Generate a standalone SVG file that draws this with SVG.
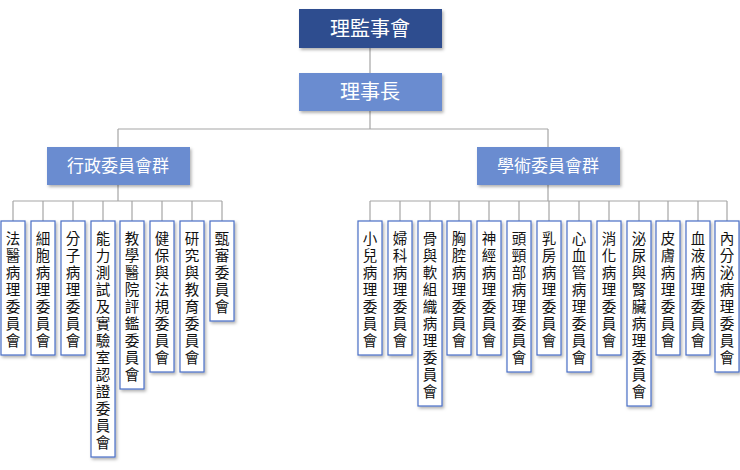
<svg xmlns="http://www.w3.org/2000/svg" width="740" height="470" viewBox="0 0 740 470">
<defs><filter id="sh" x="-20%" y="-10%" width="150%" height="130%"><feDropShadow dx="1.5" dy="2" stdDeviation="1.5" flood-color="#000" flood-opacity="0.3"/></filter></defs>
<style>
.top{fill:#2f4d8f;filter:url(#sh)}
.mid{fill:#6b8cd0;filter:url(#sh)}
.t{fill:#fff;font-family:"Noto Sans CJK TC","Noto Sans CJK SC",sans-serif;text-anchor:middle}
.leaf{fill:#fff;stroke:#4a6fc6;stroke-width:1.2;filter:url(#sh)}
.lt{fill:#111;font-family:"Noto Sans CJK TC","Noto Sans CJK SC",sans-serif;font-size:14.5px;text-anchor:middle}
.c{stroke:#a6a6a6;stroke-width:1.2;fill:none}
</style>
<g id="connectors" class="c">
<path d="M370 48V73M370 111V129M118 129H548M118 129V147M548 129V147"/>
<path d="M118 185V201M13 201H222M13 201V221M43 201V221M73 201V221M103 201V221M132 201V221M162 201V221M192 201V221M222 201V221"/>
<path d="M548 185V201M370 201H727M370 201V221M400 201V221M430 201V221M459 201V221M489 201V221M519 201V221M549 201V221M579 201V221M609 201V221M639 201V221M668 201V221M698 201V221M727 201V221"/>
</g>
<g id="n0"><rect class="top" x="299" y="9" width="143" height="39"/><text class="t" x="370" y="36" font-size="20">理監事會</text></g>
<g id="n1"><rect class="mid" x="299" y="73" width="143" height="38"/><text class="t" x="370" y="99" font-size="20">理事長</text></g>
<g id="n2"><rect class="mid" x="47" y="147" width="143" height="38"/><text class="t" x="118" y="172" font-size="17">行政委員會群</text></g>
<g id="n3"><rect class="mid" x="477" y="147" width="143" height="38"/><text class="t" x="548" y="172" font-size="17">學術委員會群</text></g>
<g id="a1"><rect class="leaf" x="1" y="221" width="24" height="134"/><text class="lt"><tspan x="13" y="244">法</tspan><tspan x="13" y="261">醫</tspan><tspan x="13" y="278">病</tspan><tspan x="13" y="295">理</tspan><tspan x="13" y="312">委</tspan><tspan x="13" y="329">員</tspan><tspan x="13" y="346">會</tspan></text></g>
<g id="a2"><rect class="leaf" x="31" y="221" width="24" height="134"/><text class="lt"><tspan x="43" y="244">細</tspan><tspan x="43" y="261">胞</tspan><tspan x="43" y="278">病</tspan><tspan x="43" y="295">理</tspan><tspan x="43" y="312">委</tspan><tspan x="43" y="329">員</tspan><tspan x="43" y="346">會</tspan></text></g>
<g id="a3"><rect class="leaf" x="61" y="221" width="24" height="134"/><text class="lt"><tspan x="73" y="244">分</tspan><tspan x="73" y="261">子</tspan><tspan x="73" y="278">病</tspan><tspan x="73" y="295">理</tspan><tspan x="73" y="312">委</tspan><tspan x="73" y="329">員</tspan><tspan x="73" y="346">會</tspan></text></g>
<g id="a4"><rect class="leaf" x="91" y="221" width="24" height="236"/><text class="lt"><tspan x="103" y="244">能</tspan><tspan x="103" y="261">力</tspan><tspan x="103" y="278">測</tspan><tspan x="103" y="295">試</tspan><tspan x="103" y="312">及</tspan><tspan x="103" y="329">實</tspan><tspan x="103" y="346">驗</tspan><tspan x="103" y="363">室</tspan><tspan x="103" y="380">認</tspan><tspan x="103" y="397">證</tspan><tspan x="103" y="414">委</tspan><tspan x="103" y="431">員</tspan><tspan x="103" y="448">會</tspan></text></g>
<g id="a5"><rect class="leaf" x="120" y="221" width="24" height="168"/><text class="lt"><tspan x="132" y="244">教</tspan><tspan x="132" y="261">學</tspan><tspan x="132" y="278">醫</tspan><tspan x="132" y="295">院</tspan><tspan x="132" y="312">評</tspan><tspan x="132" y="329">鑑</tspan><tspan x="132" y="346">委</tspan><tspan x="132" y="363">員</tspan><tspan x="132" y="380">會</tspan></text></g>
<g id="a6"><rect class="leaf" x="150" y="221" width="24" height="151"/><text class="lt"><tspan x="162" y="244">健</tspan><tspan x="162" y="261">保</tspan><tspan x="162" y="278">與</tspan><tspan x="162" y="295">法</tspan><tspan x="162" y="312">規</tspan><tspan x="162" y="329">委</tspan><tspan x="162" y="346">員</tspan><tspan x="162" y="363">會</tspan></text></g>
<g id="a7"><rect class="leaf" x="180" y="221" width="24" height="151"/><text class="lt"><tspan x="192" y="244">研</tspan><tspan x="192" y="261">究</tspan><tspan x="192" y="278">與</tspan><tspan x="192" y="295">教</tspan><tspan x="192" y="312">育</tspan><tspan x="192" y="329">委</tspan><tspan x="192" y="346">員</tspan><tspan x="192" y="363">會</tspan></text></g>
<g id="a8"><rect class="leaf" x="210" y="221" width="24" height="100"/><text class="lt"><tspan x="222" y="244">甄</tspan><tspan x="222" y="261">審</tspan><tspan x="222" y="278">委</tspan><tspan x="222" y="295">員</tspan><tspan x="222" y="312">會</tspan></text></g>
<g id="b1"><rect class="leaf" x="358" y="221" width="24" height="134"/><text class="lt"><tspan x="370" y="244">小</tspan><tspan x="370" y="261">兒</tspan><tspan x="370" y="278">病</tspan><tspan x="370" y="295">理</tspan><tspan x="370" y="312">委</tspan><tspan x="370" y="329">員</tspan><tspan x="370" y="346">會</tspan></text></g>
<g id="b2"><rect class="leaf" x="388" y="221" width="24" height="134"/><text class="lt"><tspan x="400" y="244">婦</tspan><tspan x="400" y="261">科</tspan><tspan x="400" y="278">病</tspan><tspan x="400" y="295">理</tspan><tspan x="400" y="312">委</tspan><tspan x="400" y="329">員</tspan><tspan x="400" y="346">會</tspan></text></g>
<g id="b3"><rect class="leaf" x="418" y="221" width="24" height="185"/><text class="lt"><tspan x="430" y="244">骨</tspan><tspan x="430" y="261">與</tspan><tspan x="430" y="278">軟</tspan><tspan x="430" y="295">組</tspan><tspan x="430" y="312">織</tspan><tspan x="430" y="329">病</tspan><tspan x="430" y="346">理</tspan><tspan x="430" y="363">委</tspan><tspan x="430" y="380">員</tspan><tspan x="430" y="397">會</tspan></text></g>
<g id="b4"><rect class="leaf" x="447" y="221" width="24" height="134"/><text class="lt"><tspan x="459" y="244">胸</tspan><tspan x="459" y="261">腔</tspan><tspan x="459" y="278">病</tspan><tspan x="459" y="295">理</tspan><tspan x="459" y="312">委</tspan><tspan x="459" y="329">員</tspan><tspan x="459" y="346">會</tspan></text></g>
<g id="b5"><rect class="leaf" x="477" y="221" width="24" height="134"/><text class="lt"><tspan x="489" y="244">神</tspan><tspan x="489" y="261">經</tspan><tspan x="489" y="278">病</tspan><tspan x="489" y="295">理</tspan><tspan x="489" y="312">委</tspan><tspan x="489" y="329">員</tspan><tspan x="489" y="346">會</tspan></text></g>
<g id="b6"><rect class="leaf" x="507" y="221" width="24" height="151"/><text class="lt"><tspan x="519" y="244">頭</tspan><tspan x="519" y="261">頸</tspan><tspan x="519" y="278">部</tspan><tspan x="519" y="295">病</tspan><tspan x="519" y="312">理</tspan><tspan x="519" y="329">委</tspan><tspan x="519" y="346">員</tspan><tspan x="519" y="363">會</tspan></text></g>
<g id="b7"><rect class="leaf" x="537" y="221" width="24" height="134"/><text class="lt"><tspan x="549" y="244">乳</tspan><tspan x="549" y="261">房</tspan><tspan x="549" y="278">病</tspan><tspan x="549" y="295">理</tspan><tspan x="549" y="312">委</tspan><tspan x="549" y="329">員</tspan><tspan x="549" y="346">會</tspan></text></g>
<g id="b8"><rect class="leaf" x="567" y="221" width="24" height="151"/><text class="lt"><tspan x="579" y="244">心</tspan><tspan x="579" y="261">血</tspan><tspan x="579" y="278">管</tspan><tspan x="579" y="295">病</tspan><tspan x="579" y="312">理</tspan><tspan x="579" y="329">委</tspan><tspan x="579" y="346">員</tspan><tspan x="579" y="363">會</tspan></text></g>
<g id="b9"><rect class="leaf" x="597" y="221" width="24" height="134"/><text class="lt"><tspan x="609" y="244">消</tspan><tspan x="609" y="261">化</tspan><tspan x="609" y="278">病</tspan><tspan x="609" y="295">理</tspan><tspan x="609" y="312">委</tspan><tspan x="609" y="329">員</tspan><tspan x="609" y="346">會</tspan></text></g>
<g id="b10"><rect class="leaf" x="627" y="221" width="24" height="185"/><text class="lt"><tspan x="639" y="244">泌</tspan><tspan x="639" y="261">尿</tspan><tspan x="639" y="278">與</tspan><tspan x="639" y="295">腎</tspan><tspan x="639" y="312">臟</tspan><tspan x="639" y="329">病</tspan><tspan x="639" y="346">理</tspan><tspan x="639" y="363">委</tspan><tspan x="639" y="380">員</tspan><tspan x="639" y="397">會</tspan></text></g>
<g id="b11"><rect class="leaf" x="656" y="221" width="24" height="134"/><text class="lt"><tspan x="668" y="244">皮</tspan><tspan x="668" y="261">膚</tspan><tspan x="668" y="278">病</tspan><tspan x="668" y="295">理</tspan><tspan x="668" y="312">委</tspan><tspan x="668" y="329">員</tspan><tspan x="668" y="346">會</tspan></text></g>
<g id="b12"><rect class="leaf" x="686" y="221" width="24" height="134"/><text class="lt"><tspan x="698" y="244">血</tspan><tspan x="698" y="261">液</tspan><tspan x="698" y="278">病</tspan><tspan x="698" y="295">理</tspan><tspan x="698" y="312">委</tspan><tspan x="698" y="329">員</tspan><tspan x="698" y="346">會</tspan></text></g>
<g id="b13"><rect class="leaf" x="715" y="221" width="24" height="151"/><text class="lt"><tspan x="727" y="244">內</tspan><tspan x="727" y="261">分</tspan><tspan x="727" y="278">泌</tspan><tspan x="727" y="295">病</tspan><tspan x="727" y="312">理</tspan><tspan x="727" y="329">委</tspan><tspan x="727" y="346">員</tspan><tspan x="727" y="363">會</tspan></text></g>
</svg>
